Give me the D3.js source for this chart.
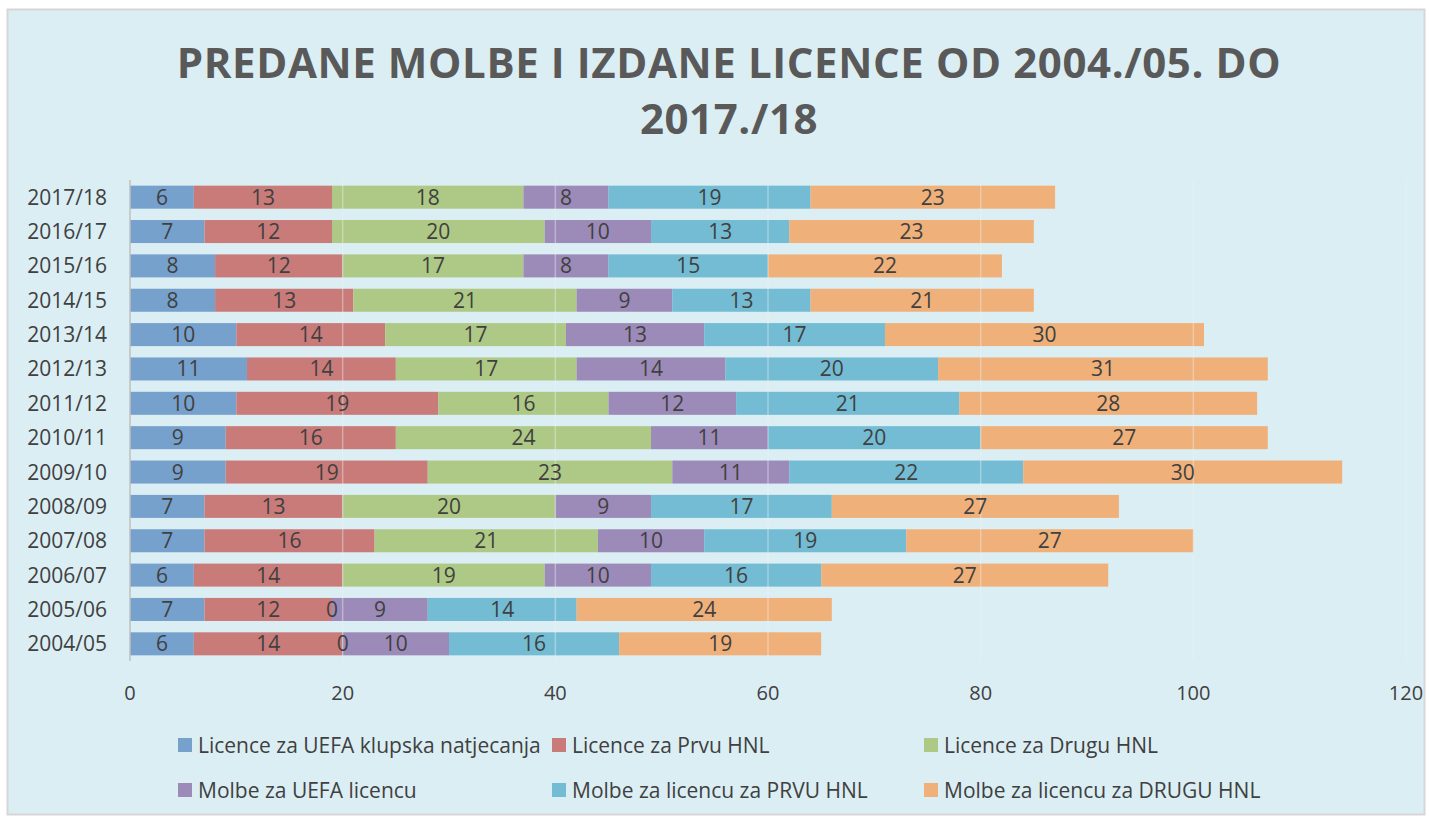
<!DOCTYPE html>
<html><head><meta charset="utf-8">
<script src="https://cdn.jsdelivr.net/npm/d3@7"></script>
<style>body{margin:0;background:#fff;}svg{display:block;}</style>
</head><body>
<svg id="c" width="1429" height="819"></svg>
<script>
const categories = ["2017/18","2016/17","2015/16","2014/15","2013/14","2012/13","2011/12","2010/11","2009/10","2008/09","2007/08","2006/07","2005/06","2004/05"];
const seriesNames = ["Licence za UEFA klupska natjecanja","Licence za Prvu HNL","Licence za Drugu HNL","Molbe za UEFA licencu","Molbe za licencu za PRVU HNL","Molbe za licencu za DRUGU HNL"];
const uefaLicence   = [6,7,8,8,10,11,10,9,9,7,7,6,7,6];
const prvaLicence   = [13,12,12,13,14,14,19,16,19,13,16,14,12,14];
const drugaLicence  = [18,20,17,21,17,17,16,24,23,20,21,19,0,0];
const uefaMolbe     = [8,10,8,9,13,14,12,11,11,9,10,10,9,10];
const prvaMolbe     = [19,13,15,13,17,20,21,20,22,17,19,16,14,16];
const drugaMolbe    = [23,23,22,21,30,31,28,27,30,27,27,27,24,19];
const xTicks = [0,20,40,60,80,100,120];
const colors = ["#77a1cd","#c97b7a","#aec985","#9c8bb8","#73bcd3","#efb07a"];

const seriesValues = [uefaLicence, prvaLicence, drugaLicence, uefaMolbe, prvaMolbe, drugaMolbe];
const svg = d3.select("#c");
svg.append("rect").attr("x",7.5).attr("y",9.5).attr("width",1417).attr("height",805)
  .attr("fill","#dbeef4").attr("stroke","#d6d6d6").attr("stroke-width",2);

const title = svg.append("text").attr("text-anchor","middle")
  .attr("font-family","Open Sans").attr("font-weight","bold").attr("font-size",42)
  .attr("fill","#595959").attr("letter-spacing","0.6");
title.append("tspan").attr("x",729).attr("y",78).text("PREDANE MOLBE I IZDANE LICENCE OD 2004./05. DO");
title.append("tspan").attr("x",729).attr("y",134).text("2017./18");

const m = {l:130, r:1406, t:180, b:661};
const x = d3.scaleLinear().domain([0,120]).range([m.l,m.r]);
const y = d3.scaleBand().domain(categories).range([m.t,m.b]).paddingInner(0.33).paddingOuter(0.165);

const rows = categories.map((c,i)=>{const o={cat:c}; seriesNames.forEach((s,j)=>o[s]=seriesValues[j][i]); return o;});
const stack = d3.stack().keys(seriesNames)(rows);

const g = svg.append("g");
stack.forEach((layer,j)=>{
  g.selectAll(null).data(layer).join("rect")
    .attr("x",d=>x(d[0])).attr("width",d=>x(d[1])-x(d[0]))
    .attr("y",d=>y(d.data.cat)).attr("height",y.bandwidth())
    .attr("fill",colors[j]);
});
// gridlines (faintly over bars)
svg.append("g").selectAll("line").data(xTicks.slice(1)).join("line")
  .attr("x1",d=>x(d)).attr("x2",d=>x(d)).attr("y1",m.t).attr("y2",m.b)
  .attr("stroke","#eef3f5").attr("stroke-width",1.5).attr("stroke-opacity",0.4);
// axis line
svg.append("line").attr("x1",m.l).attr("x2",m.l).attr("y1",m.t).attr("y2",m.b)
  .attr("stroke","#bfbfbf").attr("stroke-width",1.5);
// labels
const lab = svg.append("g");
stack.forEach((layer,j)=>{
  lab.selectAll(null).data(layer).join("text")
    .attr("x",d=>(x(d[0])+x(d[1]))/2).attr("y",d=>y(d.data.cat)+y.bandwidth()/2+7.5)
    .attr("text-anchor","middle").attr("font-family","Open Sans").attr("font-size",21)
    .attr("fill","#404040").text(d=>d[1]-d[0]);
});
// y axis labels
svg.append("g").selectAll("text").data(categories).join("text")
  .attr("x",107).attr("y",d=>y(d)+y.bandwidth()/2+7.5).attr("text-anchor","end")
  .attr("font-family","Open Sans").attr("font-size",21).attr("fill","#404040").text(d=>d);
// x axis labels
svg.append("g").selectAll("text").data(xTicks).join("text")
  .attr("x",d=>x(d)).attr("y",700).attr("text-anchor","middle")
  .attr("font-family","Open Sans").attr("font-size",20).attr("fill","#404040").text(d=>d);
// legend
const legPos = [[178,745],[552,745],[924,745],[178,790],[552,790],[924,790]];
const leg = svg.append("g").selectAll("g").data(seriesNames).join("g")
  .attr("transform",(d,i)=>`translate(${legPos[i][0]},${legPos[i][1]})`);
leg.append("rect").attr("x",0).attr("y",-7).attr("width",14).attr("height",14).attr("fill",(d,i)=>colors[i]);
leg.append("text").attr("x",20).attr("y",7.5).attr("font-family","Open Sans").attr("font-size",21)
  .attr("fill","#404040").text(d=>d);
</script>
</body></html>
